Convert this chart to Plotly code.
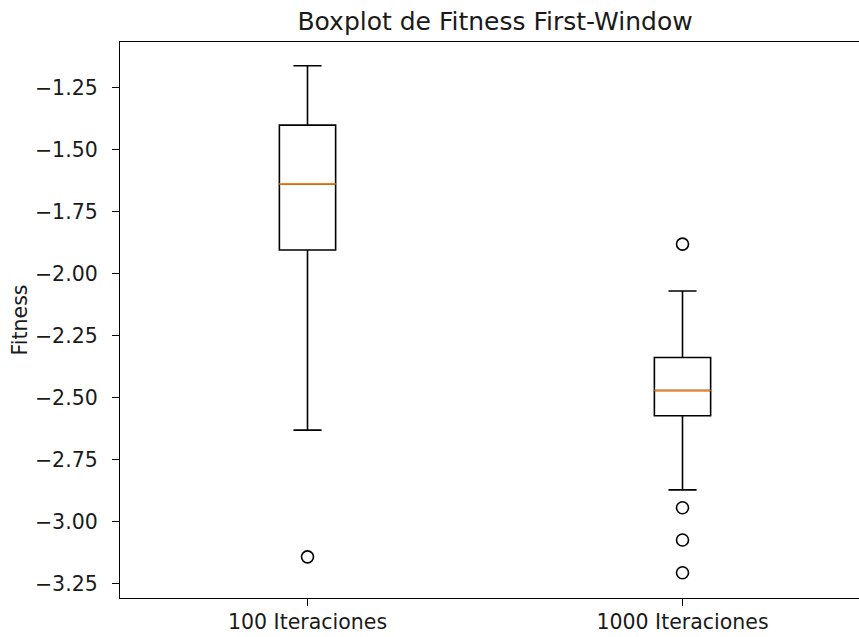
import plotly.graph_objects as go

# Summary statistics for each run length
categories = ["100 Iteraciones", "1000 Iteraciones"]
positions = [1, 2]
q1 = [-1.906, -2.574]
median = [-1.639, -2.472]
q3 = [-1.402, -2.339]
lower_whisker = [-2.632, -2.873]
upper_whisker = [-1.163, -2.071]
outliers = [
    [-3.143],
    [-1.882, -2.945, -3.075, -3.207],
]

box_width = 0.15
fig = go.Figure()

for i, pos in enumerate(positions):
    fig.add_trace(go.Box(
        x=[pos], q1=[q1[i]], median=[median[i]], q3=[q3[i]],
        lowerfence=[lower_whisker[i]], upperfence=[upper_whisker[i]],
        width=box_width, whiskerwidth=0.5,
        fillcolor="white", line=dict(color="black", width=1.6),
        boxpoints=False, showlegend=False, hoverinfo="skip",
    ))
    # orange median line drawn over the box
    fig.add_trace(go.Scatter(
        x=[pos - box_width / 2, pos + box_width / 2], y=[median[i], median[i]],
        mode="lines", line=dict(color="#ff7f0e", width=1.6),
        showlegend=False, hoverinfo="skip",
    ))
    fig.add_trace(go.Scatter(
        x=[pos] * len(outliers[i]), y=outliers[i], mode="markers",
        marker=dict(symbol="circle-open", size=12, color="black",
                    line=dict(color="black", width=1.6)),
        showlegend=False, hoverinfo="skip",
    ))

ytick_vals = [-1.25, -1.5, -1.75, -2.0, -2.25, -2.5, -2.75, -3.0, -3.25]
ytick_text = ["−%.2f" % abs(v) for v in ytick_vals]

fig.update_layout(
    width=859, height=637,
    margin=dict(l=120, r=0, t=42, b=39),
    paper_bgcolor="white", plot_bgcolor="white",
    font=dict(family="DejaVu Sans", size=20.5, color="#1a1a1a"),
    title=dict(text="Boxplot de Fitness First-Window", xref="paper", x=0.5075,
               xanchor="center", yref="container", y=1 - 21 / 637, yanchor="middle",
               font=dict(size=25, color="#1a1a1a")),
    xaxis=dict(range=[0.5, 0.5 + 739 / 375], tickvals=positions, ticktext=categories,
               showgrid=False, zeroline=False, showline=True, mirror=True,
               linecolor="black", linewidth=1.3, ticks="outside", ticklen=7,
               tickcolor="black", tickwidth=1.3, ticklabelstandoff=-2),
    yaxis=dict(range=[-3.309, -1.067], tickvals=ytick_vals, ticktext=ytick_text,
               showgrid=False, zeroline=False, showline=True, mirror=False,
               linecolor="black", linewidth=1.3, ticks="outside", ticklen=7,
               tickcolor="black", tickwidth=1.3, ticklabelstandoff=10,
               title=dict(text="Fitness", standoff=1, font=dict(size=20.5))),
)

fig.write_html("out.html")
